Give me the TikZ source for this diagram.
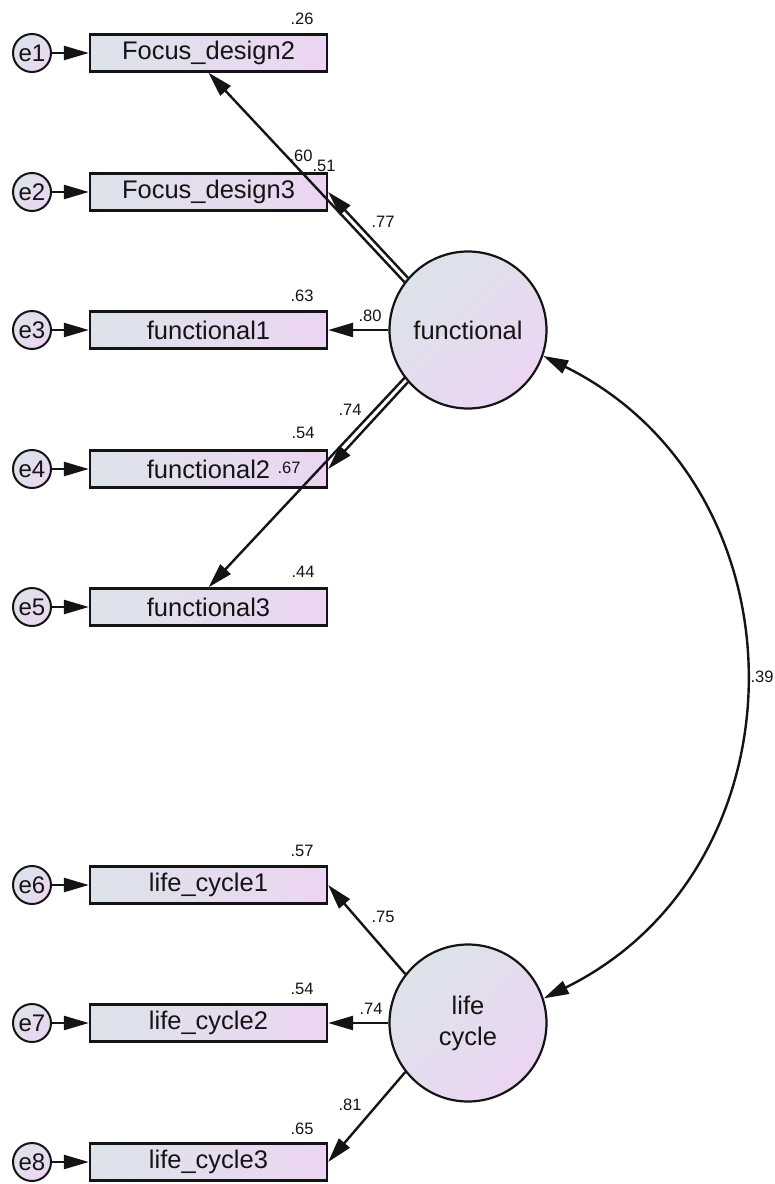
\documentclass[tikz,border=0pt]{standalone}
\usepackage{fontspec}
\setmainfont{Liberation Sans}
\usetikzlibrary{arrows.meta}
\definecolor{lb}{HTML}{DCE3EA}
\definecolor{lp}{HTML}{ECD5F2}
\definecolor{ink}{HTML}{141414}
\begin{document}
\begin{tikzpicture}[x=1pt,y=-1pt,
  obs/.style={draw=ink, line width=2.3pt, left color=lb, right color=lp,
    minimum width=237pt, minimum height=37pt, inner sep=0pt,
    text=ink, font=\fontsize{25.5}{27}\selectfont},
  err/.style={circle, draw=ink, line width=2pt, left color=lb, right color=lp,
    shading angle=45, minimum size=38pt, inner sep=0pt,
    text=ink, font=\fontsize{24}{26}\selectfont},
  lat/.style={circle, draw=ink, line width=2.2pt, left color=lb, right color=lp,
    shading angle=45, minimum size=157pt, inner sep=0pt, align=center,
    text=ink, font=\fontsize{25.5}{31}\selectfont},
  pth/.style={draw=ink, line width=2.4pt, -{Triangle[length=25pt,width=14pt]}},
  cov/.style={draw=ink, line width=2.4pt, {Triangle[length=25pt,width=14pt]}-{Triangle[length=25pt,width=14pt]}},
  coef/.style={inner sep=0pt, text=ink, font=\fontsize{16.5}{18}\selectfont}
]
\useasboundingbox (0,0) rectangle (775,1184);
\fill[white] (0,0) rectangle (775,1184);

% observed variables
\node[obs] (b1) at (208.5,53)   {Focus\_design2};
\node[obs] (b2) at (208.5,192)  {Focus\_design3};
\node[obs] (b3) at (208.5,330)  {functional1};
\node[obs] (b4) at (208.5,469)  {functional2};
\node[obs] (b5) at (208.5,607)  {functional3};
\node[obs] (b6) at (208.5,885)  {life\_cycle1};
\node[obs] (b7) at (208.5,1023) {life\_cycle2};
\node[obs] (b8) at (208.5,1162) {life\_cycle3};

% error terms
\foreach \i/\y in {1/53,2/192,3/330,4/469,5/607,6/885,7/1023,8/1162}{
  \node[err] (e\i) at (32,\y) {e\i};
  \draw[pth] (e\i.east) -- (b\i.west);
}

% latent variables
\node[lat] (fun) at (468,330)  {functional};
\node[lat] (lc)  at (468,1023) {life\\cycle};

% loadings
\draw[pth] (fun.143) -- (b1.south);
\draw[pth] (fun.139) -- (b2.east);
\draw[pth] (fun.west) -- (b3.east);
\draw[pth] (fun.221) -- (b4.east);
\draw[pth] (fun.217) -- (b5.north);
\draw[pth] (lc.142) -- (b6.east);
\draw[pth] (lc.west) -- (b7.east);
\draw[pth] (lc.218) -- (b8.east);

% covariance
\coordinate (c1) at (810,488);
\coordinate (c2) at (810,867);
\draw[cov] (fun.-19) .. controls (c1) and (c2) .. (lc.18);

% coefficients
\node[coef] (r1)  at (302,19)   {.26};
\node[coef] (l1)  at (301,156)  {.60};
\node[coef] (l2)  at (324,166)  {.51};
\node[coef] (l2b) at (383,222)  {.77};
\node[coef] (r3)  at (302,296)  {.63};
\node[coef] (l3)  at (370,316)  {.80};
\node[coef] (l5)  at (350,410)  {.74};
\node[coef] (r4)  at (303,433)  {.54};
\node[coef] (l4)  at (289,468)  {.67};
\node[coef] (r5)  at (303,572)  {.44};
\node[coef] (r6)  at (302,851)  {.57};
\node[coef] (l6)  at (383,917)  {.75};
\node[coef] (r7)  at (302,989)  {.54};
\node[coef] (l7)  at (371,1009) {.74};
\node[coef] (l8)  at (350,1105) {.81};
\node[coef] (r8)  at (302,1129) {.65};
\node[coef] (cv)  at (762,677)  {.39};
\end{tikzpicture}
\end{document}
